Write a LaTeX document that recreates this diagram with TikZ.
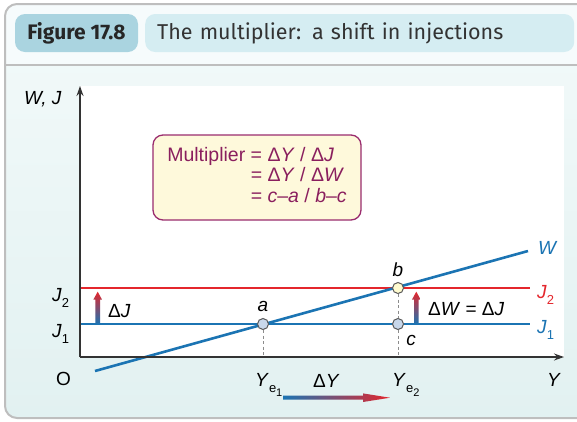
\documentclass[tikz,border=0pt]{standalone}
\usepackage{fontspec}
\setmainfont{Liberation Sans}
\newfontfamily\headfont{Fira Sans}
\usetikzlibrary{arrows.meta,positioning,calc}

\definecolor{jblue}{HTML}{1B74B3}
\definecolor{jred}{HTML}{E4262C}
\definecolor{boxline}{HTML}{9A2C6E}
\definecolor{boxtext}{HTML}{8A1F5E}
\definecolor{boxfill}{HTML}{FEF9DB}
\definecolor{tagfill}{HTML}{AAD4E0}
\definecolor{titlefill}{HTML}{D5EDF2}
\definecolor{headfill}{HTML}{F6FBFC}
\definecolor{paneltop}{HTML}{F3FAFA}
\definecolor{panelbot}{HTML}{E2F1F1}
\definecolor{framegray}{HTML}{BEBEBE}
\definecolor{dotblue}{HTML}{C8D7EA}
\definecolor{dotyellow}{HTML}{FFFBCF}

\newcommand{\jsub}[1]{\raisebox{-0.33em}{\fontsize{13}{13}\selectfont #1}}
\newcommand{\jsubsub}[1]{\raisebox{-0.3em}{\fontsize{11}{11}\selectfont #1}}

% shaded arrow pointing up: base, tip
\newcommand{\uparrowshade}[2]{%
  \shade[bottom color=jblue, top color=jred] ($(#1)+(-2.3,0)$) -- ($(#2)+(-2.3,8)$) -- ($(#2)+(-4.4,8)$) -- (#2)
    -- ($(#2)+(4.4,8)$) -- ($(#2)+(2.3,8)$) -- ($(#1)+(2.3,0)$) -- cycle;}

\tikzstyle{figtag} = [fill=tagfill, rounded corners=10pt, minimum width=123pt, minimum height=38pt, font=\fontsize{21}{24}\headfont\bfseries, text=black!85]
\tikzstyle{figtitle} = [fill=titlefill, rounded corners=10pt, minimum height=38pt, text width=405pt, inner xsep=12pt, align=left, font=\fontsize{21.5}{24}\headfont, text=black!80]
\tikzstyle{axis} = [line width=1.4pt, draw=black!80, ->]
\tikzstyle{sched} = [line width=2.6pt]
\tikzstyle{guide} = [draw=black!45, line width=0.9pt, dash pattern=on 3pt off 2.5pt]
\tikzstyle{dot} = [circle, draw=black!65, line width=1pt, inner sep=0pt, minimum size=11pt]
\tikzstyle{lbl} = [inner sep=0pt, anchor=base west]
\tikzstyle{multbox} = [draw=boxline, line width=1.3pt, fill=boxfill, rounded corners=10pt, minimum width=208pt, minimum height=85pt, text=boxtext, font=\fontsize{19.5}{20.5}\selectfont]

\begin{document}
\begin{tikzpicture}[x=1pt, y=-1pt, font=\fontsize{19}{22}\selectfont, >={Stealth[length=10pt, width=7pt]}]
    \useasboundingbox (0,0) rectangle (577,421);
    % Panel
    \shade[top color=paneltop, bottom color=panelbot, rounded corners=12pt] (5,4) rectangle (620,418);
    \fill[headfill] (5,65) [rounded corners=12pt] -- (5,4) -- (620,4) [sharp corners] -- (620,65) -- cycle;
    \draw[framegray, line width=2pt, rounded corners=12pt] (5,4) rectangle (620,418);
    \draw[framegray, line width=2pt] (5,65) -- (620,65);

    % Heading
    \node[figtag] (tag) at (76.5,33) {Figure 17.8};
    \node[figtitle, anchor=west] (title) at (145,33) {The multiplier: a shift in injections};

    % Axes
    \coordinate (O) at (80,357);
    \coordinate (ytip) at (80,86);
    \coordinate (xtip) at (564,357);
    \fill[white] (ytip) rectangle (xtip);

    \coordinate (j1s) at (80,324);
    \coordinate (j1e) at (530,324);
    \coordinate (j2s) at (80,288);
    \coordinate (j2e) at (530,288);
    \coordinate (ws) at (95,371);
    \coordinate (we) at (528,251);

    % Schedules
    \draw[sched, jred] (j2s) -- (j2e);
    \draw[sched, jblue] (j1s) -- (j1e);
    \draw[sched, jblue] (ws) -- (we);
    \draw[axis] (O) -- (ytip);
    \draw[axis] (O) -- (xtip);

    % Equilibria
    \node[dot, fill=dotblue] (a) at (263,324) {};
    \node[dot, fill=dotyellow] (b) at (398,288) {};
    \node[dot, fill=dotblue] (c) at (398,324) {};
    \coordinate (ye1) at (263,357);
    \coordinate (ye2) at (398,357);
    \draw[guide] (a) -- (ye1);
    \draw[guide] (b) -- (c);
    \draw[guide] (c) -- (ye2);

    % Shifts
    \coordinate (dj0) at (97.7,324);
    \coordinate (dj1) at (97.7,291.7);
    \coordinate (dw0) at (416.3,324);
    \coordinate (dw1) at (416.3,291.7);
    \coordinate (dy0) at (283,397.7);
    \coordinate (dy1) at (390,397.7);
    \uparrowshade{dj0}{dj1}
    \uparrowshade{dw0}{dw1}
    \shade[left color=jblue, right color=jred] ($(dy0)+(0,-2)$) -- ($(dy1)+(-27,-2)$) -- ($(dy1)+(-27,-4.3)$) -- (dy1)
      -- ($(dy1)+(-27,4.3)$) -- ($(dy1)+(-27,2)$) -- ($(dy0)+(0,2)$) -- cycle;

    % Labels
    \node[above=3pt of a] (la) {\textit{a}};
    \node[above=2pt of b] (lb) {\textit{b}};
    \node[below right=6pt and 3pt of c, inner sep=1pt] (lc) {\textit{c}};
    \node[lbl] (lwj) at (24,104) {\itshape W, J};
    \node[lbl] (lo) at (56,385) {O};
    \node[lbl] (ly) at (547,386) {\textit{Y}};
    \node[lbl] (lj2) at (52,301) {\textit{J}\jsub{2}};
    \node[lbl] (lj1) at (52,337) {\textit{J}\jsub{1}};
    \node[lbl, text=jred] (lj2r) at ($(j2e)+(7,10)$) {\textit{J}\jsub{2}};
    \node[lbl, text=jblue] (lj1r) at ($(j1e)+(7,9)$) {\textit{J}\jsub{1}};
    \node[lbl, text=jblue] (lw) at ($(we)+(10,3)$) {\textit{W}};
    \node[lbl] (ldj) at (108,317) {Δ\textit{J}};
    \node[lbl] (ldw) at (428,315) {Δ\textit{W} = Δ\textit{J}};
    \node[lbl] (ldy) at (313,387) {Δ\textit{Y}};
    \node[lbl] (lye1) at (255,386) {\textit{Y}\jsub{e\jsubsub{1}}};
    \node[lbl] (lye2) at (392,386) {\textit{Y}\jsub{e\jsubsub{2}}};

    % Multiplier box
    \node[multbox] (mult) at (257,177.5) {\begin{tabular}{@{}r@{ }l@{}}
      Multiplier & = Δ\textit{Y} / Δ\textit{J}\\
                 & = Δ\textit{Y} / Δ\textit{W}\\
                 & = \textit{c}–\textit{a} / \textit{b}–\textit{c}
      \end{tabular}};
\end{tikzpicture}
\end{document}
